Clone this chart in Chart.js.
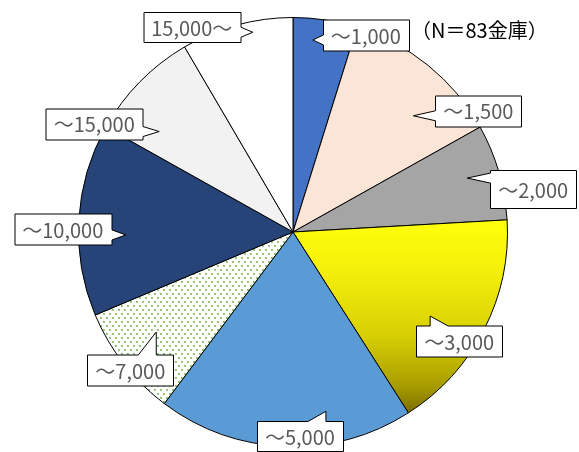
<!DOCTYPE html>
<html>
<head>
<meta charset="utf-8">
<script src="https://cdn.jsdelivr.net/npm/chart.js@4"></script>
<style>
  body { margin: 0; background: #fff; }
  #wrap { width: 579px; height: 452px; position: relative; }
</style>
</head>
<body>
<div id="wrap"><canvas id="myChart"></canvas></div>
<script>
// 貸出金規模別 金庫数
const labels = ['～1,000', '～1,500', '～2,000', '～3,000', '～5,000', '～7,000', '～10,000', '～15,000', '15,000～']
const counts = [4, 10, 6, 14, 16, 7, 12, 7, 7]
const titleText = '（N＝83金庫）'

const fills = ['#4472C4', '#FBE5D6', '#A5A5A5', 'gradient', '#5B9BD5', 'dots', '#264478', '#F2F2F2', '#FFFFFF']

// callout layout: tip = [angle from 12 o'clock (deg), fraction of radius], box = offset from tip (px), box height
const calloutLayout = [
    { tip: [5.9, 0.90], box: [53, -5], h: 31 },
    { tip: [46.0, 0.78], box: [65, -5], h: 31 },
    { tip: [72.8, 0.85], box: [66, 11], h: 38 },
    { tip: [121.5, 0.75], box: [29, 25], h: 31 },
    { tip: [169.6, 0.85], box: [-26, 25], h: 30 },
    { tip: [233.8, 0.79], box: [-26, 38], h: 31 },
    { tip: [269.0, 0.78], box: [-63, -6], h: 31 },
    { tip: [306.9, 0.78], box: [-65, -8], h: 31 },
    { tip: [348.6, 0.95], box: [-61, -5], h: 30 },
]

const makeDots = () => {
    const c = document.createElement('canvas')
    c.width = 6
    c.height = 8
    const g = c.getContext('2d')
    g.fillStyle = '#ffffff'
    g.fillRect(0, 0, 6, 8)
    g.fillStyle = '#9FCC85'
    g.fillRect(1, 1, 2, 2)
    g.fillRect(4, 5, 2, 2)
    g.fillStyle = '#7DB85C'
    g.fillRect(1, 1, 1, 1)
    g.fillRect(4, 5, 1, 1)
    return g.createPattern(c, 'repeat')
}

const sliceColor = (context) => {
    const kind = fills[context.dataIndex]
    const chart = context.chart
    if (kind === 'dots') return makeDots()
    if (kind !== 'gradient') return kind
    const area = chart.chartArea
    if (!area) return '#FFFF00'
    const cy = (area.top + area.bottom) / 2
    const r = (area.bottom - area.top) / 2
    const grad = chart.ctx.createLinearGradient(0, cy - 0.07 * r, 0, cy + 0.84 * r)
    grad.addColorStop(0, '#FFFF0A')
    grad.addColorStop(0.25, '#F6F20A')
    grad.addColorStop(0.6, '#D8D005')
    grad.addColorStop(0.85, '#ABA000')
    grad.addColorStop(1, '#7C6E00')
    return grad
}

const drawCallout = (ctx, bx, by, w, h, tx, ty) => {
    const l = bx - w / 2, r = bx + w / 2, t = by - h / 2, b = by + h / 2
    const hw = 5
    const wide = 18
    const clamp = (v, a, z) => Math.max(a, Math.min(z, v))
    let side = 'bottom'
    if (tx < l) side = 'left'
    else if (tx > r) side = 'right'
    else if (ty < t) side = 'top'

    ctx.beginPath()
    ctx.moveTo(l, t)
    if (side === 'top') {
        let a = tx, z = tx + wide
        if (bx < tx) { a = tx - wide; z = tx }
        ctx.lineTo(a, t)
        ctx.lineTo(tx, ty)
        ctx.lineTo(z, t)
    }
    ctx.lineTo(r, t)
    if (side === 'right') {
        const p = clamp(ty, t + hw, b - hw)
        ctx.lineTo(r, p - hw)
        ctx.lineTo(tx, ty)
        ctx.lineTo(r, p + hw)
    }
    ctx.lineTo(r, b)
    ctx.lineTo(l, b)
    if (side === 'left') {
        const p = clamp(ty, t + hw, b - hw)
        ctx.lineTo(l, p + hw)
        ctx.lineTo(tx, ty)
        ctx.lineTo(l, p - hw)
    }
    ctx.closePath()
    ctx.fillStyle = '#ffffff'
    ctx.fill()
    ctx.lineWidth = 1
    ctx.strokeStyle = '#000000'
    ctx.stroke()
}

const calloutPlugin = {
    id: 'callouts',
    afterDatasetsDraw(chart) {
        const ctx = chart.ctx
        const arcs = chart.getDatasetMeta(0).data
        if (!arcs.length) return
        const cx = arcs[0].x
        const cy = arcs[0].y
        const R = arcs[0].outerRadius
        ctx.save()
        ctx.font = '20px "Noto Sans CJK JP"'
        ctx.textBaseline = 'middle'
        ctx.textAlign = 'center'
        calloutLayout.forEach((item, i) => {
            const ang = item.tip[0] * Math.PI / 180
            const tx = cx + Math.sin(ang) * R * item.tip[1]
            const ty = cy - Math.cos(ang) * R * item.tip[1]
            const bx = tx + item.box[0]
            const by = ty + item.box[1]
            const w = ctx.measureText(labels[i]).width + 16
            drawCallout(ctx, Math.round(bx) + 0.5, Math.round(by) + 0.5, Math.round(w), item.h, tx, ty)
            ctx.fillStyle = '#595959'
            ctx.fillText(labels[i], bx, by + 1)
        })
        ctx.font = '20px "Noto Sans CJK JP"'
        ctx.fillStyle = '#000000'
        ctx.textAlign = 'left'
        ctx.fillText(titleText, chart.width - 168, 30)
        ctx.restore()
    }
}

const config = {
    type: 'pie',
    data: {
        labels: labels,
        datasets: [{
            data: counts,
            backgroundColor: sliceColor,
            borderColor: '#000000',
            borderWidth: 1,
        }]
    },
    options: {
        responsive: true,
        maintainAspectRatio: false,
        animation: false,
        layout: {
            padding: { top: 17, bottom: 5, left: 7, right: 0 }
        },
        plugins: {
            legend: { display: false },
            tooltip: { enabled: false },
        }
    },
    plugins: [calloutPlugin]
}

const myChart = new Chart(
    document.getElementById('myChart'),
    config
)
</script>
</body>
</html>
